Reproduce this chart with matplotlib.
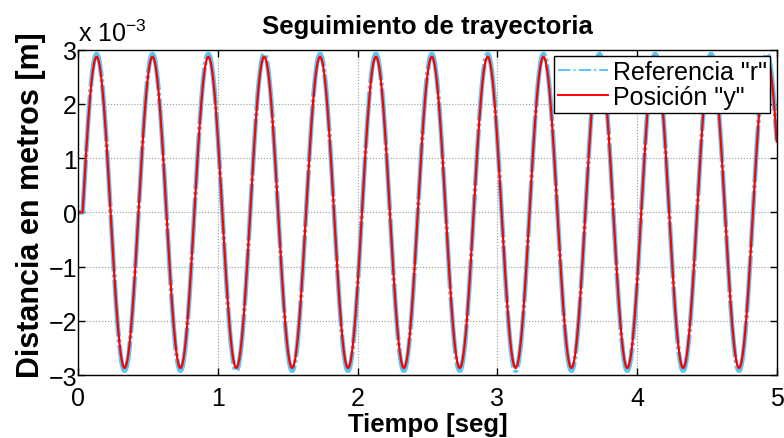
import numpy as np
import matplotlib.pyplot as plt
from matplotlib.ticker import FuncFormatter

plt.rcParams['font.family'] = ['Liberation Sans', 'DejaVu Sans']
plt.rcParams['mathtext.fontset'] = 'custom'
plt.rcParams['mathtext.rm'] = 'Liberation Sans'

# valores
t_fin = 5.0            # s
frecuencia = 2.5       # Hz (periodo 0.4 s)
retardo = 0.03         # s, la senal arranca en 0
amp_ref = 2.92e-3      # m, referencia "r"
amp_pos = 2.87e-3      # m, posicion "y"

x_ticks = [0, 1, 2, 3, 4, 5]
y_ticks = [-3e-3, -2e-3, -1e-3, 0, 1e-3, 2e-3, 3e-3]

t = np.linspace(0, t_fin, 2501)
fase = np.clip(t - retardo, 0, None)
r = amp_ref * np.sin(2 * np.pi * frecuencia * fase)
y = amp_pos * np.sin(2 * np.pi * frecuencia * fase)

fig = plt.figure(figsize=(7.84, 4.39), dpi=100)
ax = fig.add_axes([0.1001, 0.1435, 0.8906, 0.741])

ax.plot(t, r, color='#5CC6F2', linestyle=(0, (12, 0.6, 0.6, 0.6)), linewidth=3.4,
        label='Referencia "r"')
ax.plot(t, y, color='red', linewidth=1.6, label='Posición "y"')

ax.set_xlim(0, 5)
ax.set_ylim(-3e-3, 3e-3)
ax.set_xticks(x_ticks)
ax.set_yticks(y_ticks)
ax.yaxis.set_major_formatter(
    FuncFormatter(lambda v, p: ('%g' % round(v * 1e3, 6)).replace('-', '\u2212')))
ax.tick_params(direction='in', top=True, right=True, length=5, labelsize=18, width=1)
ax.tick_params(axis='x', pad=8)
ax.tick_params(axis='y', pad=1)
ax.grid(True, linestyle=':', color='#999999', linewidth=0.8)
for s in ax.spines.values():
    s.set_linewidth(1)

ax.text(0.0, 1.01, r'x 10$^{\mathrm{-3}}$', transform=ax.transAxes, fontsize=18,
        va='bottom', ha='left')

ax.set_title('Seguimiento de trayectoria', fontsize=18.5, fontweight='bold', pad=12)
ax.set_xlabel('Tiempo [seg]', fontsize=18.5, fontweight='bold', labelpad=1)
ax.set_ylabel('Distancia en metros [m]', fontsize=22, fontweight='bold')
ax.yaxis.set_label_coords(-0.047, 0.524)

leg = ax.legend(loc='upper right', fontsize=18, fancybox=False, framealpha=1,
                edgecolor='black', borderaxespad=0.25, handlelength=2.0,
                handletextpad=0.2, borderpad=0.15, labelspacing=0.05)
leg.get_frame().set_linewidth(1)
for h in leg.legend_handles:
    h.set_linewidth(1.4)
leg.legend_handles[0].set_linestyle('-.')

fig.savefig('out.png', dpi=100)
